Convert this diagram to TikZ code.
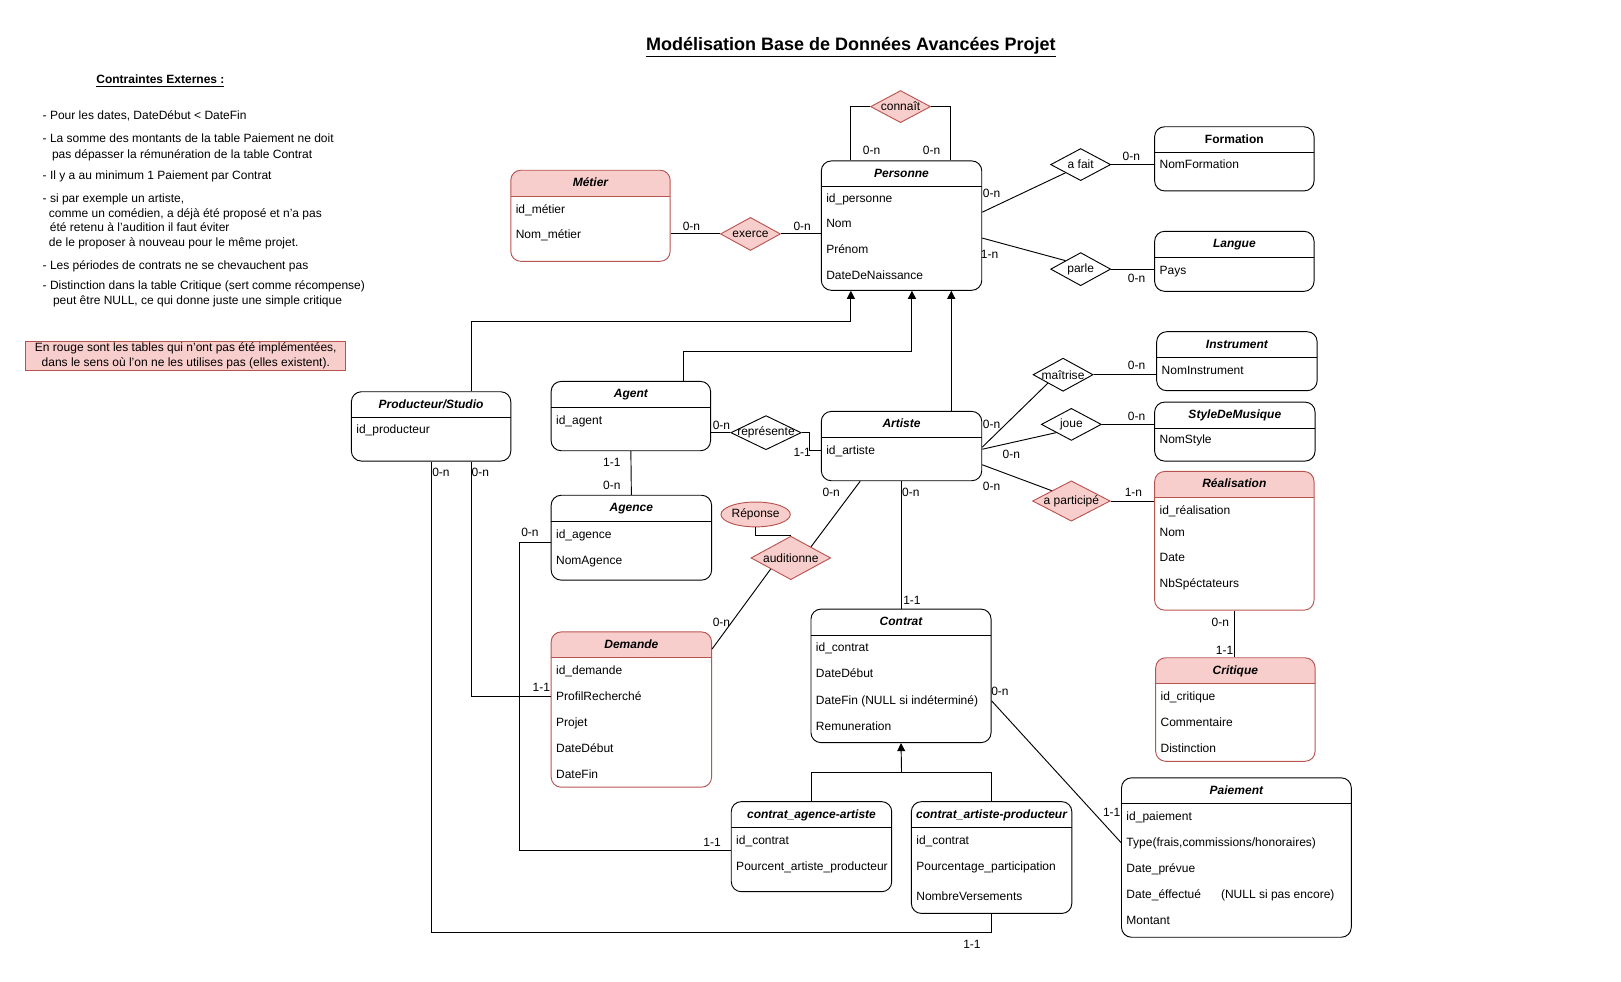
\documentclass[tikz,border=0pt]{standalone}
\usepackage{fontspec}
\setmainfont{Liberation Sans}
\usepackage{tikz}
\usetikzlibrary{calc,shapes.geometric,arrows.meta}
\definecolor{rougefond}{HTML}{F8CECC}
\definecolor{rougebord}{HTML}{B85450}
\def\upx{0.776pt}
\def\hentete{19.4pt}
\tikzset{
	entite/.style={draw, line width=0.7pt, rounded corners=7.5pt, anchor=north west, inner sep=0pt,
		path picture={\draw[line width=0.7pt] ([yshift=-\hentete]path picture bounding box.north west) -- ([yshift=-\hentete]path picture bounding box.north east);}},
	entiterouge/.style={draw=rougebord, line width=0.7pt, rounded corners=7.5pt, anchor=north west, inner sep=0pt,
		path picture={\fill[rougefond, sharp corners] (path picture bounding box.north west) rectangle ([yshift=-\hentete]path picture bounding box.north east);
			\draw[rougebord, line width=0.7pt] ([yshift=-\hentete]path picture bounding box.north west) -- ([yshift=-\hentete]path picture bounding box.north east);}},
	taille/.style 2 args={minimum width=#1*\upx, minimum height=#2*\upx},
	relation/.style={draw, shape=diamond, line width=0.7pt, inner sep=0pt},
	relationrouge/.style={relation, draw=rougebord, fill=rougefond},
	lien/.style={line width=0.7pt},
	herite/.style={lien, -{Triangle[width=6pt,length=6pt]}},
	ligne/.style={anchor=west, inner sep=0pt, text height=7pt, text depth=1pt},
	titre/.style={inner sep=0pt, text height=7pt, text depth=1pt, font=\fontsize{9}{11}\selectfont\bfseries\itshape},
	card/.style={inner sep=0pt, text height=7pt, text depth=1pt},
	remarque/.style={anchor=base west, inner sep=0pt}
}
\def\entite#1#2(#3,#4)(#5,#6)#7{\node[#2, taille={#5}{#6}] (#1) at (#3,#4) {};
	\node[titre] (#1-titre) at ($(#1.north)+(0,12.5)$) {#7};}
\def\champs#1#2{\foreach \dy/\txt [count=\i] in {#2} {\node[ligne] (#1-\i) at ($(#1.north west)+(5,\dy)$) {\txt};}}

\begin{document}
\begin{tikzpicture}[x=\upx, y=-\upx, font=\fontsize{9}{11}\selectfont]
			%%%%% START %%%%%
			\useasboundingbox (0,0) rectangle (1566,948);
			
			\node[anchor=base, inner sep=0pt, font=\fontsize{13.5}{16}\selectfont\bfseries] (titre) at (822,49) {\underline{Modélisation Base de Données Avancées Projet}};
			\node[anchor=base, inner sep=0pt, font=\fontsize{9}{11}\selectfont\bfseries] (contraintes) at (155,81) {\underline{Contraintes Externes :}};
			
			\foreach \x/\y/\txt [count=\i] in {41/115/{- Pour les dates, DateDébut < DateFin},
				41/138/{- La somme des montants de la table Paiement ne doit},
				50/153/{pas dépasser la rémunération de la table Contrat},
				41/173/{- Il y a au minimum 1 Paiement par Contrat},
				41/196/{- si par exemple un artiste,},
				47/210/{comme un comédien, a déjà été proposé et n’a pas},
				48/224/{été retenu à l’audition il faut éviter},
				47/238/{de le proposer à nouveau pour le même projet.},
				41/260/{- Les périodes de contrats ne se chevauchent pas},
				41/280/{- Distinction dans la table Critique (sert comme récompense)},
				51/294/{peut être NULL, ce qui donne juste une simple critique}}
				{\node[remarque] (note\i) at (\x,\y) {\txt};}
			
			\node[draw=rougebord, fill=rougefond, line width=0.7pt, taille={309}{28}, align=center, inner sep=0pt, font=\fontsize{9}{10.9}\selectfont] (rouge) at (179.5,344) {En rouge sont les tables qui n'ont pas été implémentées,\\dans le sens où l'on ne les utilises pas (elles existent).};
			
			% tables
			\entite{metier}{entiterouge}(493,164)(154,88){Métier}
			\champs{metier}{38/id\_métier, 63/Nom\_métier}
			\entite{personne}{entite}(793,155)(155,125){Personne}
			\champs{personne}{37/id\_personne, 61/Nom, 86/Prénom, 111/DateDeNaissance}
			\entite{formation}{entite}(1115,122)(154,62){\upshape Formation}
			\champs{formation}{37/NomFormation}
			\entite{langue}{entite}(1115,223)(154,58){Langue}
			\champs{langue}{38/Pays}
			\entite{instrument}{entite}(1117,320)(155,57){Instrument}
			\champs{instrument}{38/NomInstrument}
			\entite{musique}{entite}(1115,388)(155,57){StyleDeMusique}
			\champs{musique}{37/NomStyle}
			\entite{realisation}{entiterouge}(1115,455)(154,134){Réalisation}
			\champs{realisation}{38/id\_réalisation, 59/Nom, 84/Date, 109/NbSpéctateurs}
			\entite{critique}{entiterouge}(1116,635)(154,100){Critique}
			\champs{critique}{38/id\_critique, 63/Commentaire, 88/Distinction}
			\entite{paiement}{entite}(1083,751)(222,154){Paiement}
			\champs{paiement}{38/id\_paiement, 63/{Type(frais,commissions/honoraires)}, 88/Date\_prévue, 113/{Date\_éffectué\hspace{15pt}(NULL si pas encore)}, 138/Montant}
			\entite{prod}{entite}(339,378)(154,67){Producteur/Studio}
			\champs{prod}{37/id\_producteur}
			\entite{agent}{entite}(532,368)(154,67){Agent}
			\champs{agent}{38/id\_agent}
			\entite{artiste}{entite}(793,397)(155,67){Artiste}
			\champs{artiste}{38/id\_artiste}
			\entite{agence}{entite}(532,478)(155,82){Agence}
			\champs{agence}{38/id\_agence, 63/NomAgence}
			\entite{demande}{entiterouge}(532,610)(155,150){Demande}
			\champs{demande}{38/id\_demande, 63/ProfilRecherché, 88/Projet, 113/DateDébut, 138/DateFin}
			\entite{contrat}{entite}(783,588)(174,129){Contrat}
			\champs{contrat}{38/id\_contrat, 63/DateDébut, 89/DateFin (NULL si indéterminé), 114/Remuneration}
			\entite{caa}{entite}(706,774)(155,87){contrat\_agence-artiste}
			\champs{caa}{38/id\_contrat, 63/Pourcent\_artiste\_producteur}
			\entite{cap}{entite}(880,774)(155,108){contrat\_artiste-producteur}
			\champs{cap}{38/id\_contrat, 63/Pourcentage\_participation, 92/NombreVersements}
			
			% associations
			\node[relationrouge, taille={58}{31}] (connait) at (870,103) {\makebox[0pt]{connaît}};
			\node[relationrouge, taille={58}{32}] (exerce) at (725,226) {\makebox[0pt]{exerce}};
			\node[relation, taille={58}{31}] (afait) at (1044,159) {\makebox[0pt]{a fait}};
			\node[relation, taille={58}{32}] (parle) at (1044,260) {\makebox[0pt]{parle}};
			\node[relation, taille={58}{32}] (maitrise) at (1027,362) {\makebox[0pt]{maîtrise}};
			\node[relation, taille={58}{31}] (joue) at (1035,410) {\makebox[0pt]{joue}};
			\node[relationrouge, taille={75}{39}] (apart) at (1035,484) {\makebox[0pt]{a participé}};
			\node[relation, taille={68}{33}] (rep) at (740,418) {\makebox[0pt]{représente}};
			\node[relationrouge, taille={77}{42}] (audit) at (764,539) {\makebox[0pt]{auditionne}};
			\node[draw=rougebord, fill=rougefond, line width=0.7pt, ellipse, taille={67}{24}, inner sep=0pt] (reponse) at (730,497) {\makebox[0pt]{Réponse}};
			
			% liens
			\draw[lien] ($(personne.north west)+(29,0)$) |- (connait.west);
			\draw[lien] (connait.east) -| ($(personne.north west)+(125,0)$);
			\draw[lien] (metier.east |- exerce.west) -- (exerce.west);
			\draw[lien] (exerce.east) -- (exerce.east -| personne.west);
			\draw[lien] ($(personne.north east)+(0,50)$) -- (afait.south west);
			\draw[lien] (afait.east) -- (afait.east -| formation.west);
			\draw[lien] ($(personne.north east)+(0,75)$) -- (parle.north west);
			\draw[lien] (parle.east) -- (parle.east -| langue.west);
			\draw[herite] ($(prod.north west)+(116,0)$) |- ($(personne.south west)+(29,30)$) -- ($(personne.south west)+(29,0)$);
			\draw[herite] ($(agent.north west)+(128,0)$) |- ($(personne.south west)+(88,59)$) -- ($(personne.south west)+(88,0)$);
			\draw[herite] ($(artiste.north west)+(126,0)$) -- ($(personne.south west)+(126,0)$);
			\draw[lien] (agent.east |- rep.west) -- (rep.west);
			\draw[lien] (rep.east) -- ++(8,0) |- ($(artiste.north west)+(0,38)$);
			\draw[lien] (agent.south) -- (agence.north);
			\draw[lien] ($(artiste.north east)+(0,35)$) -- (maitrise.south west);
			\draw[lien] (maitrise.east) -- (maitrise.east -| instrument.west);
			\draw[lien] ($(artiste.north east)+(0,37)$) -- (joue.south west);
			\draw[lien] (joue.east) -- (joue.east -| musique.west);
			\draw[lien] ($(artiste.north east)+(0,52)$) -- (apart.north west);
			\draw[lien] (apart.east) -- (apart.east -| realisation.west);
			\draw[lien] (artiste.south) -- (artiste.south |- contrat.north);
			\draw[lien] ($(artiste.south west)+(38,0)$) -- (audit.north east);
			\draw[lien] (audit.south west) -- ($(demande.north east)+(0,17)$);
			\draw[lien] (reponse.south) |- (audit.north);
			\draw[lien] ($(agence.north west)+(0,46)$) -- ++(-30,0) |- ($(caa.north west)+(0,48)$);
			\draw[lien] ($(prod.south west)+(116,0)$) |- ($(demande.north west)+(0,63)$);
			\draw[lien] (prod.south) |- ($(cap.south)+(0,18)$) -- (cap.south);
			\draw[lien] (caa.north) -- ++(0,-28) -| (cap.north);
			\draw[herite] ($(caa.north)!0.5!(cap.north)+(0,-28)$) -- (contrat.south);
			\draw[lien] ($(contrat.north east)+(0,89)$) -- ($(paiement.north west)+(0,63)$);
			\draw[lien] (realisation.south) -- (realisation.south |- critique.north);
			
			% cardinalites
			\foreach \x/\y/\txt [count=\i] in {842/145/0-n, 900/145/0-n, 668/219/0-n, 775/219/0-n,
				958/187/0-n, 1093/151/0-n, 956/246/1-n, 1098/269/0-n,
				697/411/0-n, 775/437/1-1, 591/447/1-1, 591/469/0-n,
				958/410/0-n, 1098/353/0-n, 977/439/0-n, 1098/402/0-n,
				958/470/0-n, 1095/476/1-n, 803/476/0-n, 880/476/0-n,
				881/580/1-1, 697/601/0-n, 426/456/0-n, 464/456/0-n,
				512/514/0-n, 523/664/1-1, 688/814/1-1, 939/912/1-1,
				966/668/0-n, 1074/785/1-1, 1179/601/0-n, 1183/628/1-1}
				{\node[card] (card\i) at (\x,\y) {\txt};}
			
			%%%%% END %%%%%
\end{tikzpicture}
\end{document}
